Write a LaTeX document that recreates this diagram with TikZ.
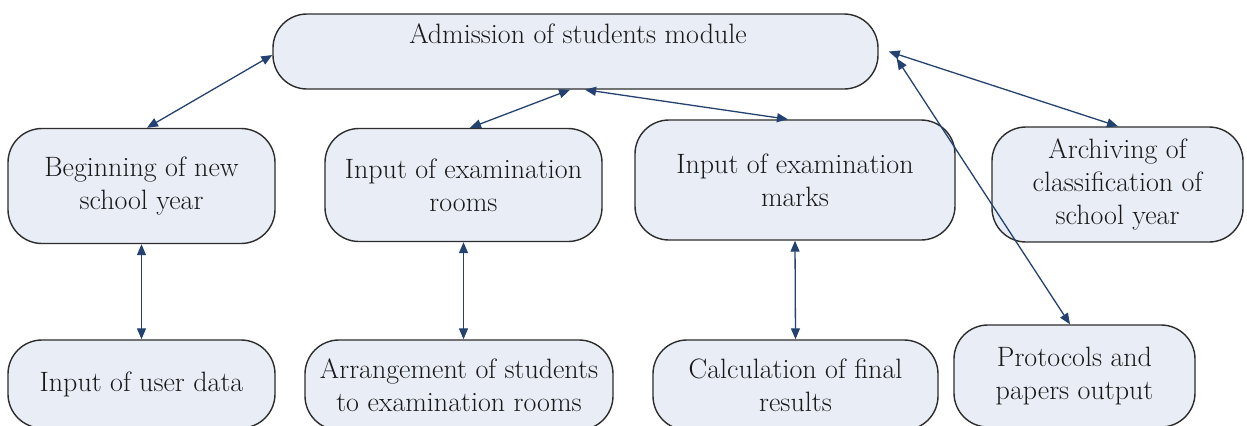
\documentclass[tikz,border=0pt]{standalone}
\usetikzlibrary{arrows.meta}
\definecolor{boxfill}{RGB}{232,237,246}
\definecolor{arrowc}{RGB}{36,66,112}
\definecolor{edgec}{RGB}{45,45,45}
\definecolor{txtc}{RGB}{25,25,25}
\begin{document}
\begin{tikzpicture}[x=1bp,y=-1bp,
  box/.style={draw=edgec, line width=1.4bp, fill=boxfill, rounded corners=34bp, align=center,
    font=\rmfamily\fontsize{28bp}{33bp}\selectfont, text=txtc, inner sep=0pt},
  lbl/.style={font=\rmfamily\fontsize{28bp}{33bp}\selectfont, text=txtc, inner sep=0pt},
  conn/.style={draw=arrowc, line width=1.3bp,
    {Triangle[length=11bp,width=9bp]}-{Triangle[length=11bp,width=9bp]}}
]
\useasboundingbox (0,0) rectangle (1247,425);
\fill[white] (0,0) rectangle (1247,425);

\node[box, minimum width=605bp, minimum height=75bp] (T) at (575.5,51.5) {};
\node[lbl, anchor=base] (Ttext) at (578,43) {Admission of students module};

\node[box, minimum width=267bp, minimum height=115bp] (A) at (141.5,186) {Beginning of new\\school year};
\node[box, minimum width=277bp, minimum height=113bp] (B) at (463.5,185) {Input of examination\\rooms};
\node[box, minimum width=320bp, minimum height=120bp] (C) at (795,180) {Input of examination\\marks};
\node[box, minimum width=251bp, minimum height=115bp] (D) at (1117.5,184.5) {Archiving of\\classification of\\school year};
\node[box, minimum width=267bp, minimum height=88bp] (E) at (141.5,384) {Input of user data};
\node[box, minimum width=308bp, minimum height=90bp] (F) at (459,385) {Arrangement of students\\to examination rooms};
\node[box, minimum width=285bp, minimum height=90bp] (G) at (795.5,385) {Calculation of final\\results};
\node[box, minimum width=241bp, minimum height=102bp] (H) at (1074.5,376) {Protocols and\\papers output};

\draw[conn] ([xshift=5.5bp]A.north) -- ([yshift=-3.5bp]T.west);
\draw[conn] ([xshift=6.5bp]B.north) -- ([xshift=-5.5bp]T.south);
\draw[conn] ([xshift=9.5bp]T.south) -- ([xshift=-7bp]C.north);
\draw[conn] ([xshift=10bp]T.east) -- ([xshift=0.5bp]D.north);
\draw[conn] ([xshift=18bp,yshift=-7bp]T.east) -- ([xshift=-4.5bp]H.north);
\draw[conn] (A.south) -- (E.north);
\draw[conn] (B.south) -- (B.south |- F.north);
\draw[conn] (C.south) -- (G.north);
\end{tikzpicture}
\end{document}
